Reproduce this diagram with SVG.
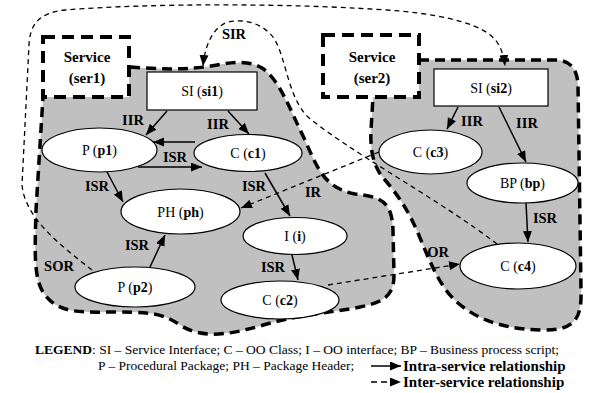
<svg xmlns="http://www.w3.org/2000/svg" width="589" height="393" viewBox="0 0 589 393" font-family="'Liberation Serif', 'DejaVu Serif', serif">
<style>
text{fill:#000}
.node{fill:#fff;stroke:#000;stroke-width:1.2}
.nt{font-size:14px;text-anchor:middle}
.b{font-weight:bold}
.lbl{font-size:14.5px;font-weight:bold;text-anchor:middle}
.svc{font-size:15px;font-weight:bold;text-anchor:middle}
.regfill{fill:#c0c0c0;stroke:none}
.regline{fill:none;stroke:#000;stroke-width:3.5;stroke-dasharray:10 6}
.svcbox{fill:#fff;stroke:#000;stroke-width:4;stroke-dasharray:12 7}
.solid{fill:none;stroke:#000;stroke-width:1.5;marker-end:url(#ah)}
.dash{fill:none;stroke:#000;stroke-width:1.3;stroke-dasharray:5 4;marker-end:url(#ah)}
.leg{font-size:13.5px}
.legb{font-size:15px;font-weight:bold}
</style>
<defs>
<marker id="ah" markerUnits="userSpaceOnUse" markerWidth="12" markerHeight="10" refX="11" refY="4.5" orient="auto">
<path d="M0,0 L11,4.5 L0,9 z" fill="#000"/>
</marker>
</defs>
<rect width="589" height="393" fill="#fff"/>
<g id="regions">
<path class="regfill" d="M130,67 C160,69 180,70 205,67 C225,64 245,58 262,68 C280,80 290,110 305,140 C318,170 325,188 355,194 C380,197 392,200 393,230 L394,275 C394,295 385,302 360,307 C330,313 300,314 260,326 C225,336 200,338 180,325 C165,315 155,312 120,312 C85,312 60,315 45,295 C33,280 35,250 36,210 L43,97 L43,67 Z"/>
<path class="regline" d="M130,67 C160,69 180,70 205,67 C225,64 245,58 262,68 C280,80 290,110 305,140 C318,170 325,188 355,194 C380,197 392,200 393,230 L394,275 C394,295 385,302 360,307 C330,313 300,314 260,326 C225,336 200,338 180,325 C165,315 155,312 120,312 C85,312 60,315 45,295 C33,280 35,250 36,210 L43,97"/>
<path class="regfill" d="M419,60 L555,60 C570,60 577,68 578,85 L581,290 C582,318 575,330 545,330 C510,330 480,322 458,303 C440,288 430,262 418,233 C408,210 398,195 385,180 C373,167 370,150 371,130 L373,97 L373,60 Z"/>
<path class="regline" d="M419,60 L555,60 C570,60 577,68 578,85 L581,290 C582,318 575,330 545,330 C510,330 480,322 458,303 C440,288 430,262 418,233 C408,210 398,195 385,180 C373,167 370,150 371,130 L373,97"/>
</g>
<g id="ser1">
<rect class="svcbox" x="43" y="37" width="86" height="60"/>
<text class="svc" x="87" y="62">Service</text>
<text class="svc" x="87" y="83">(ser1)</text>
</g>
<g id="ser2">
<rect class="svcbox" x="323" y="35" width="96" height="62"/>
<text class="svc" x="372" y="62">Service</text>
<text class="svc" x="372" y="83">(ser2)</text>
</g>
<g id="connectors">
<path class="solid" d="M167,111 L146,135"/>
<path class="solid" d="M228,111 L249,134"/>
<path class="solid" d="M195,142 L153,142"/>
<path class="solid" d="M138,167 L202,167"/>
<path class="solid" d="M107,172 L123,202"/>
<path class="solid" d="M265,173 L290,216"/>
<path class="solid" d="M292,255 L298,280"/>
<path class="solid" d="M150,267 L165,235"/>
<path class="solid" d="M458,107 L447,129"/>
<path class="solid" d="M499,107 L526,162"/>
<path class="solid" d="M526,203 L528,242"/>
<path class="dash" d="M497,244 C440,200 350,152 308,117 C288,97 287,62 275,40 C265,24 245,18 228,22 C213,27 205,45 203,66"/>
<path class="dash" d="M92,270 C60,245 25,218 22,185 L29,45 C30,25 38,13 65,10 C150,3 300,3 400,11 C450,16 485,25 497,42 C502,50 504,57 505,66"/>
<path class="dash" d="M379,152 L241,208"/>
<path class="dash" d="M328,285 L460,264"/>
<text class="lbl" x="234" y="39">SIR</text>
<text class="lbl" x="133" y="125">IIR</text>
<text class="lbl" x="218" y="129">IIR</text>
<text class="lbl" x="175" y="162">ISR</text>
<text class="lbl" x="97" y="191">ISR</text>
<text class="lbl" x="254" y="191">ISR</text>
<text class="lbl" x="313" y="197">IR</text>
<text class="lbl" x="137" y="250">ISR</text>
<text class="lbl" x="273" y="272">ISR</text>
<text class="lbl" x="59" y="271">SOR</text>
<text class="lbl" x="472" y="126">IIR</text>
<text class="lbl" x="527" y="128">IIR</text>
<text class="lbl" x="545" y="223">ISR</text>
<text class="lbl" x="438" y="257">OR</text>
</g>
<g id="si1">
<rect class="node" x="147" y="72" width="110" height="38"/>
<text class="nt" x="202" y="96">SI (<tspan class="b">si1</tspan>)</text>
</g>
<g id="si2">
<rect class="node" x="434" y="69" width="114" height="37"/>
<text class="nt" x="491" y="93">SI (<tspan class="b">si2</tspan>)</text>
</g>
<g id="p1">
<ellipse class="node" cx="99.5" cy="150" rx="57.5" ry="22"/>
<text class="nt" x="99.5" y="155">P (<tspan class="b">p1</tspan>)</text>
</g>
<g id="c1">
<ellipse class="node" cx="248" cy="153" rx="54" ry="18.5"/>
<text class="nt" x="248" y="158">C (<tspan class="b">c1</tspan>)</text>
</g>
<g id="ph">
<ellipse class="node" cx="180.5" cy="211.5" rx="59.5" ry="22.5"/>
<text class="nt" x="180.5" y="216.5">PH (<tspan class="b">ph</tspan>)</text>
</g>
<g id="i">
<ellipse class="node" cx="295" cy="236" rx="52" ry="18.5"/>
<text class="nt" x="295" y="241">I (<tspan class="b">i</tspan>)</text>
</g>
<g id="c2">
<ellipse class="node" cx="280" cy="300" rx="59" ry="19"/>
<text class="nt" x="280" y="305">C (<tspan class="b">c2</tspan>)</text>
</g>
<g id="p2">
<ellipse class="node" cx="135" cy="287" rx="60" ry="20"/>
<text class="nt" x="135" y="292">P (<tspan class="b">p2</tspan>)</text>
</g>
<g id="c3">
<ellipse class="node" cx="430.5" cy="152" rx="51.5" ry="22"/>
<text class="nt" x="430.5" y="157">C (<tspan class="b">c3</tspan>)</text>
</g>
<g id="bp">
<ellipse class="node" cx="522.5" cy="183" rx="55.5" ry="20"/>
<text class="nt" x="522.5" y="188">BP (<tspan class="b">bp</tspan>)</text>
</g>
<g id="c4">
<ellipse class="node" cx="518" cy="266" rx="58" ry="23"/>
<text class="nt" x="518" y="271">C (<tspan class="b">c4</tspan>)</text>
</g>
<g id="legend">
<text class="leg" x="35" y="354"><tspan class="b">LEGEND</tspan>: SI – Service Interface; C – OO Class; I – OO interface; BP – Business process script;</text>
<text class="leg" x="98" y="370">P – Procedural Package; PH – Package Header;</text>
<line x1="371" y1="366" x2="401" y2="366" stroke="#000" stroke-width="1.5" marker-end="url(#ah)"/>
<text class="legb" x="403" y="371">Intra-service relationship</text>
<line x1="371" y1="382" x2="401" y2="382" stroke="#000" stroke-width="1.5" stroke-dasharray="6 4" marker-end="url(#ah)"/>
<text class="legb" x="403" y="387">Inter-service relationship</text>
</g>
</svg>
